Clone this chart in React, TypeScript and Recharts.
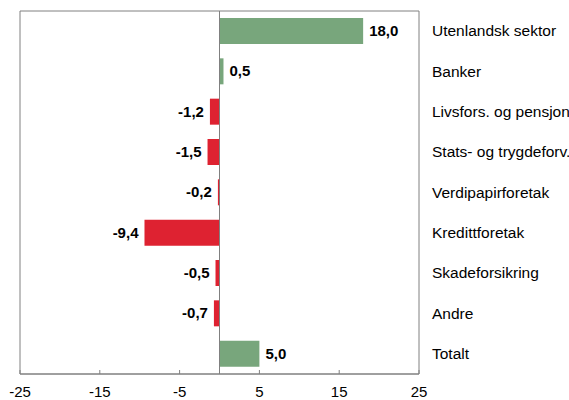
import { BarChart, Bar, XAxis, YAxis, Cell, LabelList, ReferenceLine, ReferenceArea } from "recharts";

const sectors = [
  "Utenlandsk sektor",
  "Banker",
  "Livsfors. og pensjon",
  "Stats- og trygdeforv.",
  "Verdipapirforetak",
  "Kredittforetak",
  "Skadeforsikring",
  "Andre",
  "Totalt",
];
const values = [18.0, 0.5, -1.2, -1.5, -0.2, -9.4, -0.5, -0.7, 5.0];
const xTicks = [-25, -15, -5, 5, 15, 25];

const GREEN = "#78a67c";
const RED = "#de2231";
const AXIS = "#808080";
const FONT = "'Liberation Sans', Arial, sans-serif";

const data = sectors.map((name, i) => ({ name, value: values[i] }));

const fmt = (v: number) => v.toFixed(1).replace(".", ",");

function XTick(props: any) {
  const { x, y, payload } = props;
  return (
    <g>
      <line x1={x} x2={x} y1={y - 4} y2={y} stroke={AXIS} />
      <text x={x} y={y + 23} textAnchor="middle" fontSize={15} fontFamily={FONT} fill="#000">
        {payload.value}
      </text>
    </g>
  );
}

function YTick(props: any) {
  const { x, y, payload } = props;
  return (
    <text x={x + 13} y={y + 5} textAnchor="start" fontSize={15.5} fontFamily={FONT} fill="#000">
      {payload.value}
    </text>
  );
}

function ValueLabel(props: any) {
  const { x, y, width, height, value } = props;
  const neg = value < 0;
  const left = Math.min(x, x + width);
  const right = Math.max(x, x + width);
  return (
    <text
      x={neg ? left - 6 : right + 6}
      y={y + height / 2 + 5}
      textAnchor={neg ? "end" : "start"}
      fontSize={15}
      fontWeight="bold"
      fontFamily={FONT}
      fill="#000"
    >
      {fmt(value)}
    </text>
  );
}

export default function App() {
  return (
    <div style={{ position: "absolute", left: 0, top: 0, background: "#fff" }}>
      <BarChart
        width={569}
        height={400}
        data={data}
        layout="vertical"
        margin={{ top: 11, right: 0, bottom: 0, left: 20 }}
      >
        <XAxis
          type="number"
          domain={[-25, 25]}
          ticks={xTicks}
          interval={0}
          stroke={AXIS}
          tickLine={false}
          tickSize={0}
          tickMargin={0}
          tick={<XTick />}
          height={26}
        />
        <XAxis
          xAxisId="top"
          orientation="top"
          type="number"
          domain={[-25, 25]}
          stroke="#000"
          tick={false}
          tickLine={false}
          height={0}
        />
        <YAxis
          type="category"
          dataKey="name"
          orientation="right"
          width={150}
          axisLine={false}
          tickLine={false}
          tickSize={0}
          tickMargin={0}
          tick={<YTick />}
        />
        <ReferenceArea x1={-25} x2={25} fill="none" stroke={AXIS} strokeWidth={1} ifOverflow="visible" />
        <ReferenceLine x={0} stroke={AXIS} />
        <Bar dataKey="value" barSize={26} isAnimationActive={false}>
          {data.map((d, i) => (
            <Cell key={i} fill={d.value >= 0 ? GREEN : RED} />
          ))}
          <LabelList dataKey="value" content={<ValueLabel />} />
        </Bar>
      </BarChart>
    </div>
  );
}
